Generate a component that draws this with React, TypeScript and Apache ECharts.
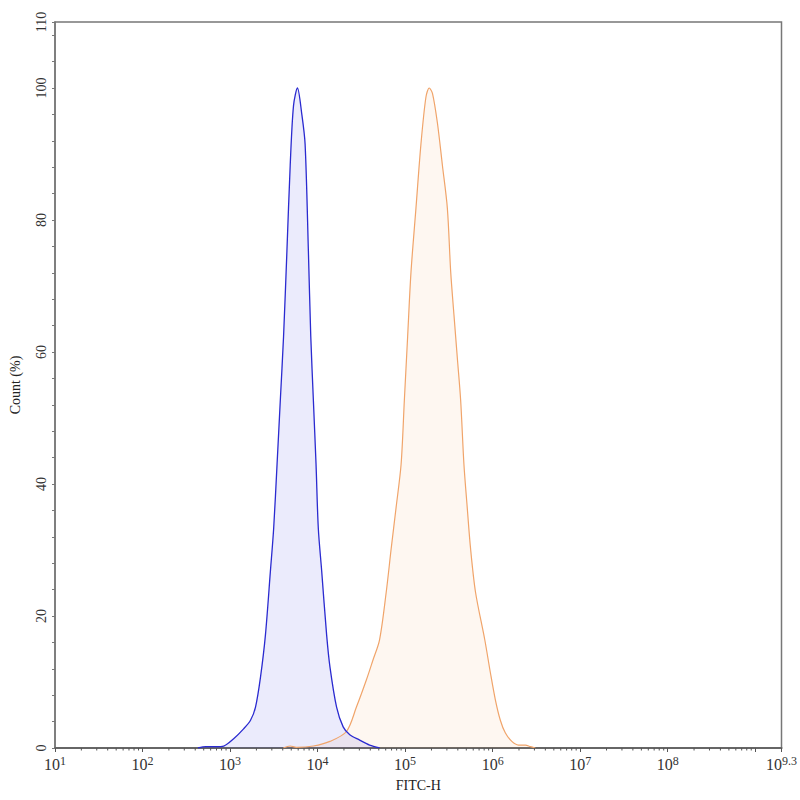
import React, { useEffect, useRef } from 'react';
import * as echarts from 'echarts';

// FITC-H histogram, log x axis from 10^1 to 10^9.3
const xMin = 10;
const xMax = Math.pow(10, 9.3);

// isotype control (blue)
const blueX = [
  430, 530, 687, 847, 1099, 1427, 1713, 1953, 2225, 2535, 2890, 3150, 3443, 3751, 4086, 4463, 4866,
  5305, 5888, 6604, 7200, 7850, 8356, 8950, 9600, 10190, 11140, 12690, 13840, 16480, 19590, 23320,
  30270, 39290, 51050,
];
const blueY = [
  0, 0.2, 0.2, 0.3, 1.4, 2.9, 4.2, 6.2, 10.7, 17.1, 26.8, 33.3, 43, 52.7, 62.4, 75.3, 88.3, 97.3,
  100, 96, 91.5, 75.3, 62.4, 52.7, 43, 33.3, 26.8, 17.1, 12.3, 6.2, 3.2, 2, 1.2, 0.45, 0,
];

// stained sample (orange)
const orangeX = [
  4056, 4863, 5690, 8950, 13840, 21380, 27780, 36060, 42850, 51050, 60800, 69300, 78960, 89960,
  98000, 106900, 116700, 133000, 151600, 172800, 188500, 205300, 233900, 266600, 303700, 331800,
  361500, 394300, 430900, 469700, 511900, 559400, 637300, 812800, 942400, 1074000, 1224000,
  1394000, 1656000, 1972000, 2369000, 2699000, 3075000,
];
const orangeY = [
  0, 0.3, 0.1, 0.3, 1.0, 2.5, 6.2, 10.3, 13.3, 16.4, 23.6, 30.2, 36.5, 43, 52.7, 62.4, 72.1, 81.8,
  91.5, 98.6, 100, 99.2, 94.7, 88.3, 81.8, 72.1, 65.6, 59.2, 52.7, 43, 36.5, 30.2, 23.6, 16.4, 11.4,
  7.3, 4.2, 2.3, 1, 0.45, 0.45, 0.2, 0,
];

// log minor ticks: 2..9 x 10^n
const decades = [1, 2, 3, 4, 5, 6, 7, 8, 9];
const minorMultipliers = [2, 3, 4, 5, 6, 7, 8, 9];

// labelled exponents on x, labelled values on y
const xLabelExps = [1, 2, 3, 4, 5, 6, 7, 8, 9.3];
const yLabels = [0, 20, 40, 60, 80, 100, 110];

const FONT = 'Liberation Serif';
const AXIS = '#777';

export default function App() {
  const ref = useRef<HTMLDivElement | null>(null);

  useEffect(() => {
    document.body.style.margin = '0';
    if (!ref.current) return;
    const inst = echarts.init(ref.current, undefined, { renderer: 'svg' });

    const minorTicks = decades
      .flatMap((d) => minorMultipliers.map((m) => m * Math.pow(10, d)))
      .filter((v) => v < xMax)
      .map((v) => [v, 0]);

    inst.setOption({
      animation: false,
      textStyle: { fontFamily: FONT },
      grid: {
        left: 53,
        right: 15,
        top: 22,
        bottom: 52,
        show: true,
        borderColor: AXIS,
        borderWidth: 1.5,
      },
      xAxis: {
        type: 'log',
        logBase: 10,
        min: xMin,
        max: xMax,
        name: 'FITC-H',
        nameLocation: 'middle',
        nameGap: 30,
        nameTextStyle: { fontSize: 14, color: '#222', fontFamily: FONT },
        axisLine: { lineStyle: { color: '#666', width: 2 } },
        axisTick: { length: 4, lineStyle: { color: '#555' } },
        axisLabel: {
          margin: 7,
          fontSize: 16,
          color: '#333',
          fontFamily: FONT,
          formatter: (v: number) => {
            const e = Math.round(Math.log10(v) * 10) / 10;
            return xLabelExps.includes(e) ? `10{s|${e}}` : '';
          },
          rich: {
            s: { fontSize: 12, fontFamily: FONT, color: '#333', verticalAlign: 'top', padding: [0, 0, 7, 0] },
          },
        },
        splitLine: { show: false },
      },
      yAxis: {
        type: 'value',
        min: 0,
        max: 110,
        interval: 4,
        name: 'Count (%)',
        nameLocation: 'middle',
        nameGap: 33,
        nameTextStyle: { fontSize: 14, color: '#222', fontFamily: FONT },
        axisLine: { show: true, lineStyle: { color: AXIS, width: 1.5 } },
        axisTick: { show: true, length: 3, lineStyle: { color: AXIS } },
        axisLabel: {
          interval: 0,
          rotate: 90,
          margin: 7,
          fontSize: 14,
          color: '#333',
          fontFamily: FONT,
          formatter: (v: number) => (yLabels.includes(v) ? String(v) : ''),
        },
        splitLine: { show: false },
      },
      series: [
        {
          type: 'line',
          data: orangeX.map((x, i) => [x, orangeY[i]]),
          showSymbol: false,
          smooth: 0.3,
          lineStyle: { color: '#f0a46a', width: 1.2 },
          areaStyle: { color: 'rgba(240,160,90,0.12)' },
          silent: true,
        },
        {
          type: 'line',
          data: blueX.map((x, i) => [x, blueY[i]]),
          showSymbol: false,
          smooth: 0.3,
          lineStyle: { color: '#2a2ad0', width: 1.3 },
          areaStyle: { color: 'rgba(70,70,230,0.15)' },
          silent: true,
        },
        {
          type: 'custom',
          data: minorTicks,
          silent: true,
          clip: false,
          z: 5,
          renderItem: (_params: any, api: any) => {
            const p = api.coord([api.value(0), 0]);
            return {
              type: 'line',
              shape: { x1: p[0], y1: p[1], x2: p[0], y2: p[1] + 2.5 },
              style: { stroke: '#555', lineWidth: 1 },
            };
          },
        },
      ],
    });

    return () => inst.dispose();
  }, []);

  return <div ref={ref} style={{ width: 800, height: 800 }} />;
}
